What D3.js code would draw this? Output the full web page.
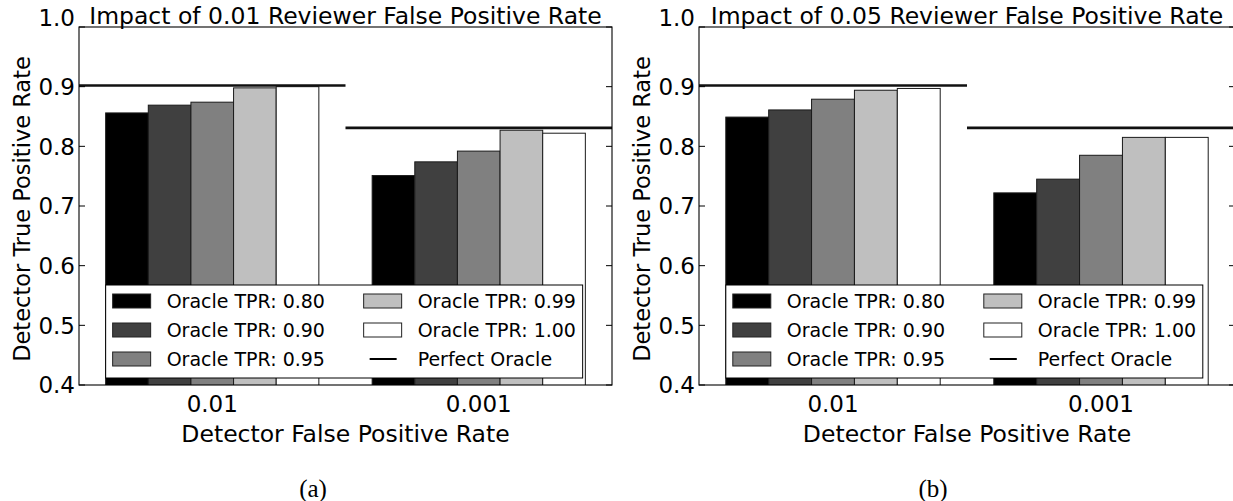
<!DOCTYPE html>
<html>
<head>
<meta charset="utf-8">
<script src="https://cdn.jsdelivr.net/npm/d3@7"></script>
<style>
  html, body { margin: 0; padding: 0; background: #fff; }
  svg { display: block; }
  text { font-family: "DejaVu Sans", sans-serif; fill: #000; }
</style>
</head>
<body>
<div id="chart"></div>
<script>
// ---- data ----
const categories = ["0.01", "0.001"];            // Detector False Positive Rate
const seriesNames = ["Oracle TPR: 0.80", "Oracle TPR: 0.90", "Oracle TPR: 0.95", "Oracle TPR: 0.99", "Oracle TPR: 1.00"];
const seriesColors = ["#000000", "#404040", "#808080", "#bfbfbf", "#ffffff"];
const perfectLabel = "Perfect Oracle";
const yTicks = [0.4, 0.5, 0.6, 0.7, 0.8, 0.9, 1.0];

// panel (a): reviewer FPR 0.01 ; rows = series, cols = categories
const valuesA = [
  [0.856, 0.751],
  [0.869, 0.774],
  [0.874, 0.792],
  [0.898, 0.827],
  [0.900, 0.822]
];
const perfectA = [0.902, 0.831];

// panel (b): reviewer FPR 0.05
const valuesB = [
  [0.849, 0.722],
  [0.861, 0.745],
  [0.879, 0.785],
  [0.894, 0.815],
  [0.897, 0.815]
];
const perfectB = [0.902, 0.831];

const titles = ["Impact of 0.01 Reviewer False Positive Rate", "Impact of 0.05 Reviewer False Positive Rate"];
const captions = ["(a)", "(b)"];

// ---- layout ----
const W = 1233, H = 501;
const svg = d3.select("#chart").append("svg").attr("width", W).attr("height", H);

const panels = [
  { left: 79,  top: 27, width: 533, height: 358, values: valuesA, perfect: perfectA, title: titles[0], caption: captions[0], capX: 313 },
  { left: 699, top: 27, width: 536, height: 358, values: valuesB, perfect: perfectB, title: titles[1], caption: captions[1], capX: 933 }
];

const barW = 0.16;
const FS = 23.5;
const TFS = 23;
const YLFS = 22.5;
const LFS = 19;

panels.forEach((p, pi) => {
  const g = svg.append("g").attr("transform", `translate(${p.left},${p.top})`);
  const x = d3.scaleLinear().domain([-0.1, 1.9]).range([0, p.width]);
  const y = d3.scaleLinear().domain([0.4, 1.0]).range([p.height, 0]);

  const clipId = "clip" + pi;
  g.append("clipPath").attr("id", clipId).append("rect")
    .attr("x", 0).attr("y", 0).attr("width", p.width).attr("height", p.height);
  const plot = g.append("g").attr("clip-path", `url(#${clipId})`);

  // bars
  p.values.forEach((row, si) => {
    plot.selectAll(null).data(row).enter().append("rect")
      .attr("x", (v, ci) => x(ci + si * barW))
      .attr("y", v => y(v))
      .attr("width", x(barW) - x(0))
      .attr("height", v => y(0.4) - y(v) + 2)
      .attr("fill", seriesColors[si])
      .attr("stroke", "#1a1a1a")
      .attr("stroke-width", 1);
  });

  // perfect oracle lines
  plot.selectAll(null).data(p.perfect).enter().append("line")
    .attr("x1", (v, ci) => x(ci - 0.1))
    .attr("x2", (v, ci) => x(ci + 0.9))
    .attr("y1", v => y(v)).attr("y2", v => y(v))
    .attr("stroke", "#111").attr("stroke-width", 2.6);

  // frame
  g.append("rect").attr("x", 0).attr("y", 0).attr("width", p.width).attr("height", p.height)
    .attr("fill", "none").attr("stroke", "#000").attr("stroke-width", 1.1);

  // y ticks (inward, both sides)
  yTicks.forEach((t, ti) => {
    g.append("line").attr("x1", 0).attr("x2", 6).attr("y1", y(t)).attr("y2", y(t))
      .attr("stroke", "#000").attr("stroke-width", 1);
    g.append("line").attr("x1", p.width - 6).attr("x2", p.width).attr("y1", y(t)).attr("y2", y(t))
      .attr("stroke", "#000").attr("stroke-width", 1);
    const isTop = ti === yTicks.length - 1;
    g.append("text").attr("x", -4).attr("y", y(t) - (isTop ? 9 : 0)).attr("dy", "0.36em")
      .attr("text-anchor", "end").style("font-size", TFS + "px").text(t.toFixed(1));
  });

  // x tick labels
  categories.forEach((c, ci) => {
    g.append("text").attr("x", x(ci + 0.4)).attr("y", p.height + 19).attr("dy", "0.36em")
      .attr("text-anchor", "middle").style("font-size", TFS + "px").text(c);
  });

  // axis labels
  g.append("text").attr("x", p.width / 2).attr("y", p.height + 49).attr("dy", "0.36em")
    .attr("text-anchor", "middle").style("font-size", FS + "px").text("Detector False Positive Rate");
  g.append("text").attr("transform", `translate(${-57},${p.height / 2 + 3}) rotate(-90)`)
    .attr("text-anchor", "middle").attr("dy", "0.36em").style("font-size", YLFS + "px")
    .text("Detector True Positive Rate");

  // title
  g.append("text").attr("x", x(0.9)).attr("y", -3)
    .attr("text-anchor", "middle").style("font-size", FS + "px").text(p.title);

  // legend
  const lgX = x(0), lgW = 477, lgH = 93, lgY = p.height - 7 - lgH;
  const lg = g.append("g").attr("transform", `translate(${lgX},${lgY})`);
  lg.append("rect").attr("width", lgW).attr("height", lgH)
    .attr("fill", "#fff").attr("stroke", "#000").attr("stroke-width", 1);
  const rowsY = [16, 45, 74];
  const colX = [7, 258];
  const items = seriesNames.map((n, i) => ({ name: n, color: seriesColors[i], type: "patch" }))
    .concat([{ name: perfectLabel, type: "line" }]);
  items.forEach((it, i) => {
    const col = Math.floor(i / 3), row = i % 3;
    const ix = colX[col], iy = rowsY[row];
    if (it.type === "patch") {
      lg.append("rect").attr("x", ix).attr("y", iy - 7).attr("width", 38).attr("height", 14)
        .attr("fill", it.color).attr("stroke", "#222").attr("stroke-width", 1);
    } else {
      lg.append("line").attr("x1", ix + 6).attr("x2", ix + 33).attr("y1", iy).attr("y2", iy)
        .attr("stroke", "#000").attr("stroke-width", 2);
    }
    lg.append("text").attr("x", ix + 54).attr("y", iy).attr("dy", "0.36em")
      .style("font-size", LFS + "px").text(it.name);
  });

  // caption
  svg.append("text").attr("x", p.capX).attr("y", 488).attr("dy", "0.36em")
    .attr("text-anchor", "middle")
    .style("font-family", "'Liberation Serif', 'DejaVu Serif', serif")
    .style("font-size", "25px").text(p.caption);
});
</script>
</body>
</html>
